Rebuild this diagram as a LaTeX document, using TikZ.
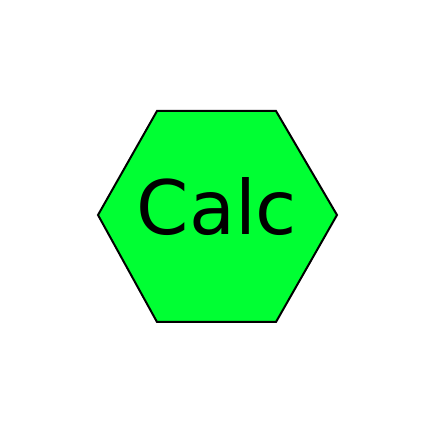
\documentclass[tikz,border=0pt]{standalone}
\usepackage{fontspec}
\setmainfont{DejaVu Sans}
\definecolor{hexgreen}{RGB}{0,255,51}
\begin{document}
\begin{tikzpicture}[x=1pt,y=1pt,
  hexshape/.style={draw=black,line width=2pt,fill=hexgreen,line join=miter},
  hexlabel/.style={font=\fontsize{75}{80}\selectfont,anchor=base,inner sep=0pt}]
\useasboundingbox (0,0) rectangle (432,432);
\fill[white] (0,0) rectangle (432,432);
\draw[hexshape] (98,217) -- (157,321) -- (276,321) -- (337,217) -- (276,110) -- (157,110) -- cycle;
\node[hexlabel] (calc) at (217,197) {Calc};
\end{tikzpicture}
\end{document}
